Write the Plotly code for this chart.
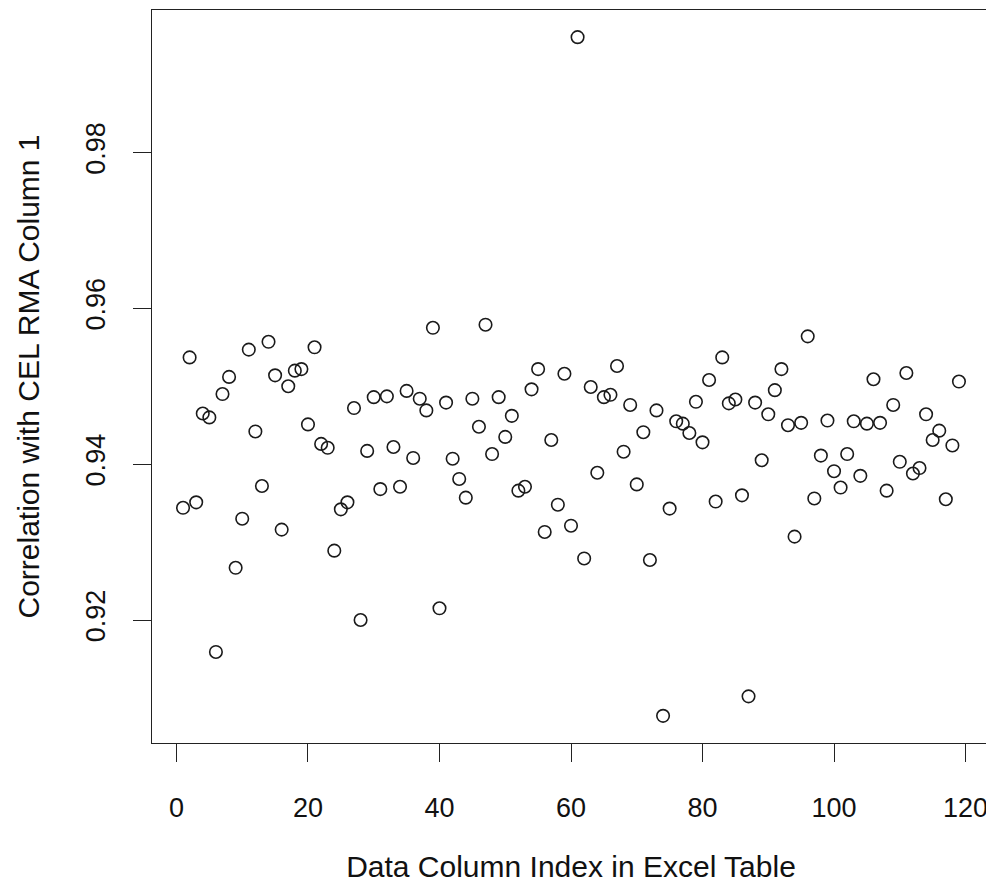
import plotly.graph_objects as go

# Data column index (x) and correlation with CEL RMA column 1 (y)
column_index = list(range(1, 120))
correlation = [
    0.9344, 0.9537, 0.9351, 0.9465, 0.9460, 0.9159, 0.9490, 0.9512, 0.9267, 0.9330,
    0.9547, 0.9442, 0.9372, 0.9557, 0.9514, 0.9316, 0.9500, 0.9520, 0.9522, 0.9451,
    0.9550, 0.9426, 0.9421, 0.9289, 0.9342, 0.9351, 0.9472, 0.9200, 0.9417, 0.9486,
    0.9368, 0.9487, 0.9422, 0.9371, 0.9494, 0.9408, 0.9484, 0.9469, 0.9575, 0.9215,
    0.9479, 0.9407, 0.9381, 0.9357, 0.9484, 0.9448, 0.9579, 0.9413, 0.9486, 0.9435,
    0.9462, 0.9366, 0.9371, 0.9496, 0.9522, 0.9313, 0.9431, 0.9348, 0.9516, 0.9321,
    0.9948, 0.9279, 0.9499, 0.9389, 0.9486, 0.9489, 0.9526, 0.9416, 0.9476, 0.9374,
    0.9441, 0.9277, 0.9469, 0.9077, 0.9343, 0.9455, 0.9452, 0.9440, 0.9480, 0.9428,
    0.9508, 0.9352, 0.9537, 0.9478, 0.9483, 0.9360, 0.9102, 0.9479, 0.9405, 0.9464,
    0.9495, 0.9522, 0.9450, 0.9307, 0.9453, 0.9564, 0.9356, 0.9411, 0.9456, 0.9391,
    0.9370, 0.9413, 0.9455, 0.9385, 0.9452, 0.9509, 0.9453, 0.9366, 0.9476, 0.9403,
    0.9517, 0.9388, 0.9395, 0.9464, 0.9431, 0.9443, 0.9355, 0.9424, 0.9506,
]
x_ticks = [0, 20, 40, 60, 80, 100, 120]
y_ticks = [0.92, 0.94, 0.96, 0.98]
y_tick_labels = ["0.92", "0.94", "0.96", "0.98"]

x_title = "Data Column Index in Excel Table"
y_title = "Correlation with CEL RMA Column 1"


def padded_range(vals, frac=0.04):
    lo, hi = min(vals), max(vals)
    d = (hi - lo) * frac
    return [lo - d, hi + d]


FONT = "Liberation Sans, Arial, Helvetica, sans-serif"

fig = go.Figure(
    go.Scatter(
        x=column_index,
        y=correlation,
        mode="markers",
        marker=dict(
            symbol="circle-open",
            size=12.5,
            color="#1a1a1a",
            line=dict(width=1.6, color="#1a1a1a"),
        ),
        showlegend=False,
    )
)

axis_common = dict(
    showline=True,
    linecolor="#222",
    linewidth=1.4,
    mirror=True,
    showgrid=False,
    zeroline=False,
    ticks="outside",
    ticklen=18,
    tickwidth=1.3,
    tickcolor="#222",
    tickfont=dict(family=FONT, size=27, color="#111"),
)

fig.update_layout(
    width=986,
    height=875,
    paper_bgcolor="white",
    plot_bgcolor="white",
    margin=dict(l=144, r=4, t=2, b=140),
    font=dict(family=FONT, color="#111"),
    xaxis=dict(
        **axis_common,
        range=padded_range(column_index),
        tickvals=x_ticks,
        ticktext=[str(v) for v in x_ticks],
        ticklabelstandoff=22,
        title=dict(text=x_title, font=dict(family=FONT, size=30, color="#111"), standoff=36),
    ),
    yaxis=dict(
        **axis_common,
        range=padded_range(correlation),
        tickvals=y_ticks,
        ticktext=y_tick_labels,
        tickangle=-90,
        ticklabelstandoff=17,
        title=dict(text=y_title, font=dict(family=FONT, size=30, color="#111"), standoff=32),
    ),
)

fig.write_html("out.html")
